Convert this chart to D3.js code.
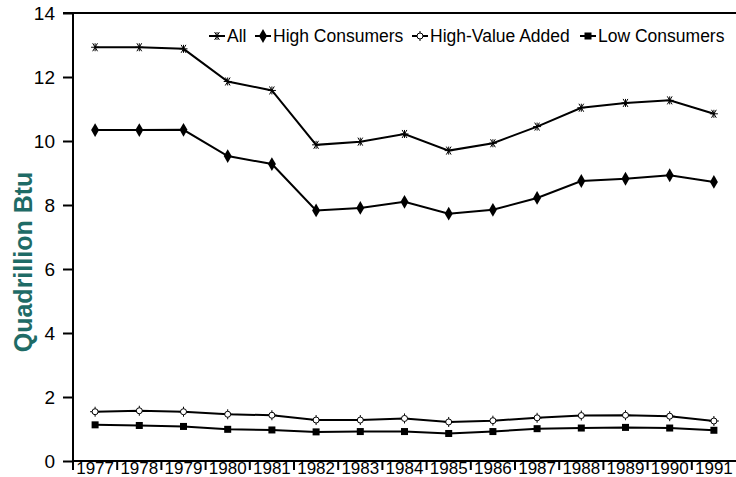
<!DOCTYPE html>
<html><head><meta charset="utf-8">
<script src="https://cdn.jsdelivr.net/npm/d3@7"></script>
<style>body{margin:0;background:#fff}svg{display:block}text{font-family:"Liberation Sans",Arial,sans-serif}</style>
</head><body><svg id="c" width="736" height="477"></svg>
<script>
const years = ["1977","1978","1979","1980","1981","1982","1983","1984","1985","1986","1987","1988","1989","1990","1991"];
const allValues = [12.93,12.93,12.88,11.86,11.58,9.88,9.98,10.22,9.70,9.93,10.45,11.04,11.19,11.27,10.85];
const highConsumers = [10.34,10.34,10.35,9.53,9.28,7.83,7.91,8.10,7.73,7.85,8.22,8.75,8.82,8.93,8.72];
const highValueAdded = [1.54,1.57,1.54,1.46,1.43,1.28,1.28,1.33,1.22,1.26,1.35,1.42,1.43,1.40,1.25];
const lowConsumers = [1.13,1.11,1.08,0.99,0.97,0.91,0.92,0.92,0.86,0.92,1.01,1.03,1.05,1.03,0.96];
const yTicks = [0,2,4,6,8,10,12,14];
const seriesNames = ["All","High Consumers","High-Value Added","Low Consumers"];
const yTitle = "Quadrillion Btu";

const svg = d3.select("#c");
const L = 73, R = 736, T = 13, B = 461;
const x = d3.scaleBand().domain(years).range([L, R]);
const y = d3.scaleLinear().domain([0, 14]).range([B, T]);

// top border
svg.append("line").attr("x1", L).attr("x2", R).attr("y1", y(14)).attr("y2", y(14)).attr("stroke", "#000").attr("stroke-width", 2);

// y axis
const ya = svg.append("g").attr("transform", `translate(${L},0)`)
  .call(d3.axisLeft(y).tickValues(yTicks).tickSize(10).tickPadding(8).tickFormat(d3.format("d")));
ya.select(".domain").attr("stroke-width", 2).attr("d", `M-10,${y(14)}H0V${B+9}`);
ya.selectAll(".tick line").attr("stroke-width", 2);
ya.selectAll(".tick text").style("font-size", "19px").attr("fill", "#000");

// x axis
const xa = svg.append("g").attr("transform", `translate(0,${B})`).call(d3.axisBottom(x).tickSize(0).tickPadding(1));
xa.select(".domain").attr("stroke-width", 2).attr("d", `M${L},0H${R}`);
xa.selectAll(".tick text").style("font-size", "17px").attr("fill", "#000").attr("dy", "0.72em");
svg.append("g").selectAll("line").data(years.slice(1)).join("line")
  .attr("x1", d => x(d)).attr("x2", d => x(d)).attr("y1", B).attr("y2", B + 9)
  .attr("stroke", "#000").attr("stroke-width", 2);

// y title
svg.append("text").attr("transform", `translate(32,262) rotate(-90)`).attr("text-anchor", "middle")
  .style("font-size", "25px").style("font-weight", "bold").attr("fill", "#1f6b66").text(yTitle);

const cx = (d, i) => x(years[i]) + x.bandwidth() / 2;
const line = d3.line().x((d, i) => cx(d, i)).y(d => y(d));

function drawMarker(g, type) {
  if (type === 0) {
    const s = 4;
    g.append("path").attr("d", `M${-s},0H${s}M${-s*0.6},${-s}L${s*0.6},${s}M${s*0.6},${-s}L${-s*0.6},${s}M0,${-s}V${s}`)
      .attr("stroke", "#000").attr("stroke-width", 1).attr("fill", "none");
  } else if (type === 1) {
    g.append("path").attr("d", d3.symbol(d3.symbolDiamond, 55)()).attr("fill", "#000");
  } else if (type === 2) {
    g.append("circle").attr("r", 3).attr("fill", "#fff").attr("stroke", "#000").attr("stroke-width", 1);
    g.append("path").attr("d", "M0,-5V-3M0,3V5M-5,0H-3M3,0H5").attr("stroke", "#000").attr("stroke-width", 1);
  } else {
    g.append("rect").attr("x", -3.5).attr("y", -3.5).attr("width", 7).attr("height", 7).attr("fill", "#000");
  }
}

const series = [allValues, highConsumers, highValueAdded, lowConsumers];
series.forEach((vals, k) => {
  svg.append("path").datum(vals).attr("d", line).attr("fill", "none").attr("stroke", "#000").attr("stroke-width", 2);
  vals.forEach((v, i) => {
    const g = svg.append("g").attr("transform", `translate(${cx(v, i)},${y(v)})`);
    drawMarker(g, k);
  });
});

// legend
const legX = [227, 273, 430, 598];
const legY = 36;
seriesNames.forEach((n, k) => {
  const tx = legX[k];
  svg.append("line").attr("x1", tx - 18).attr("x2", tx - 2).attr("y1", legY).attr("y2", legY).attr("stroke", "#000").attr("stroke-width", 2);
  drawMarker(svg.append("g").attr("transform", `translate(${tx - 10},${legY})`), k);
  svg.append("text").attr("x", tx).attr("y", legY + 6).style("font-size", "17.5px").attr("fill", "#000").text(n);
});
</script></body></html>
